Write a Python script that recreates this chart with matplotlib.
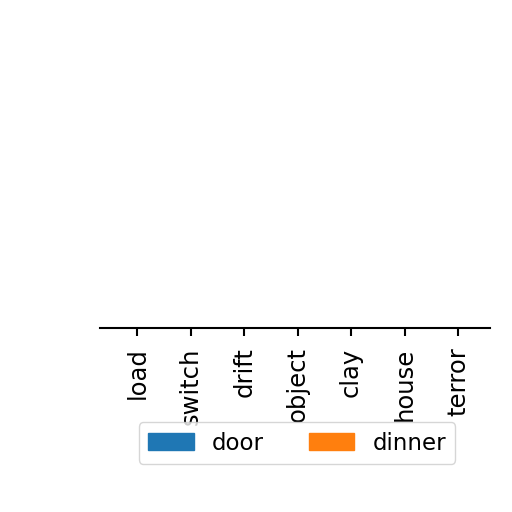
import matplotlib.pyplot as plt
import numpy as np

categories = ['load', 'switch', 'drift', 'object', 'clay', 'house', 'terror']
door = [3, 5, 4, 6, 2, 5, 4]
dinner = [2, 4, 6, 3, 5, 3, 6]

fig = plt.figure(figsize=(5.12, 5.12), dpi=100)
ax = fig.add_axes([100 / 512, 1 - 328 / 512, 390 / 512, 1.2 / 512])

x = np.arange(len(categories))
w = 0.35
ax.bar(x - w / 2, door, w, color='#1f77b4', label='door', alpha=0.4)
ax.bar(x + w / 2, dinner, w, color='#ff7f0e', label='dinner', alpha=0.4)

ax.set_xticks(x)
ax.set_xticklabels(categories, rotation=90, fontsize=17.5)
ax.set_yticks([])
ax.set_xlim(-0.7, 6.6)
for s in ['left', 'right', 'top']:
    ax.spines[s].set_visible(False)
ax.spines['bottom'].set_linewidth(1.5)
ax.tick_params(axis='x', length=6, width=1.5, pad=8)

handles = [plt.Rectangle((0, 0), 1, 1, color='#1f77b4'),
           plt.Rectangle((0, 0), 1, 1, color='#ff7f0e')]
fig.legend(handles, ['door', 'dinner'], loc='center',
           bbox_to_anchor=(297 / 512, 1 - 443 / 512), ncol=2,
           fontsize=16.5, columnspacing=1.95, handlelength=2.0)

fig.savefig('out.png', dpi=100)
